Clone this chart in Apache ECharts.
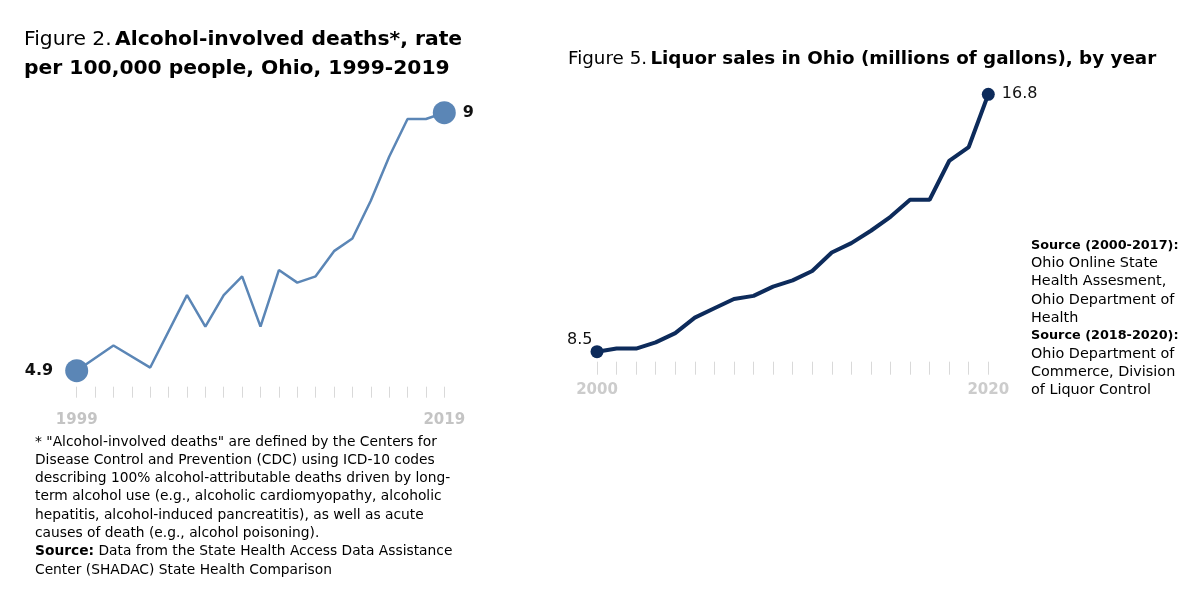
<!DOCTYPE html>
<html>
<head>
<meta charset="utf-8">
<script src="https://cdn.jsdelivr.net/npm/echarts@6/dist/echarts.min.js"></script>
<style>
  html, body { margin: 0; padding: 0; background: #fff; }
  #chart { width: 1200px; height: 598px; }
</style>
</head>
<body>
<div id="chart"></div>
<script>
// Figure 2: alcohol-involved deaths per 100,000 (null = no vertex drawn in the picture)
const deathYears = ['1999', '2000', '2001', '2002', '2003', '2004', '2005', '2006', '2007', '2008',
    '2009', '2010', '2011', '2012', '2013', '2014', '2015', '2016', '2017', '2018', '2019'];
const deathRate = [4.9, null, 5.3, null, 4.95, null, 6.1, 5.6, 6.1, 6.4,
    5.6, 6.5, 6.3, 6.4, 6.8, 7.0, 7.6, 8.3, 8.9, 8.9, 9.0];

// Figure 5: liquor sales, millions of gallons
const salesYears = ['2000', '2001', '2002', '2003', '2004', '2005', '2006', '2007', '2008', '2009',
    '2010', '2011', '2012', '2013', '2014', '2015', '2016', '2017', '2018', '2019', '2020'];
const liquorSales = [8.5, 8.6, 8.6, 8.8, 9.1, 9.6, 9.9, 10.2, 10.3, 10.6,
    10.8, 11.1, 11.7, 12.0, 12.4, 12.85, 13.4, 13.4, 14.65, 15.1, 16.8];

const FONT = 'DejaVu Sans';

// only the first and last points get a dot and a label
function endPoints(values, size, firstLabel, lastLabel) {
    let last = values.length - 1;
    return values.map((v, i) => {
        if (i === 0) return { value: v, symbol: 'circle', symbolSize: size, label: Object.assign({ show: true }, firstLabel) };
        if (i === last) return { value: v, symbol: 'circle', symbolSize: size, label: Object.assign({ show: true }, lastLabel) };
        return { value: v, symbol: 'none' };
    });
}

function firstLast(n) {
    return (v, i) => (i === 0 || i === n - 1) ? v : '';
}

let myChart = echarts.init(document.getElementById('chart'));
let option = {
    animation: false,
    textStyle: { fontFamily: FONT },
    grid: [
        { left: 76.7, width: 367.6, top: 112.7, height: 258 },
        { left: 597, width: 391.3, top: 94.3, height: 257.4 }
    ],
    xAxis: [{
        type: 'category',
        gridIndex: 0,
        data: deathYears,
        boundaryGap: false,
        offset: 16,
        axisLine: { show: false },
        axisTick: { show: true, interval: 0, length: 11, lineStyle: { color: '#d9d9d9', width: 1 } },
        axisLabel: {
            interval: 0,
            formatter: firstLast(deathYears.length),
            color: '#c4c4c4',
            fontWeight: 'bold',
            fontSize: 15,
            fontFamily: FONT,
            margin: 26
        },
        splitLine: { show: false }
    }, {
        type: 'category',
        gridIndex: 1,
        data: salesYears,
        boundaryGap: false,
        offset: 10,
        axisLine: { show: false },
        axisTick: { show: true, interval: 0, length: 13, lineStyle: { color: '#d9d9d9', width: 1 } },
        axisLabel: {
            interval: 0,
            formatter: firstLast(salesYears.length),
            color: '#cccccc',
            fontWeight: 'bold',
            fontSize: 15,
            fontFamily: FONT,
            margin: 21
        },
        splitLine: { show: false }
    }],
    yAxis: [
        { type: 'value', gridIndex: 0, min: 4.9, max: 9, show: false },
        { type: 'value', gridIndex: 1, min: 8.5, max: 16.8, show: false }
    ],
    series: [{
        type: 'line',
        xAxisIndex: 0,
        yAxisIndex: 0,
        connectNulls: true,
        showAllSymbol: true,
        lineStyle: { color: '#5b86b6', width: 2.5 },
        itemStyle: { color: '#5b86b6' },
        label: { color: '#111', fontWeight: 'bold', fontSize: 16, fontFamily: FONT },
        data: endPoints(deathRate, 23,
            { position: 'left', distance: 12 },
            { position: 'right', distance: 7 })
    }, {
        type: 'line',
        xAxisIndex: 1,
        yAxisIndex: 1,
        showAllSymbol: true,
        lineStyle: { color: '#0d2b5b', width: 4 },
        itemStyle: { color: '#0d2b5b' },
        label: { color: '#111', fontSize: 16, fontFamily: FONT },
        data: endPoints(liquorSales, 13,
            { position: 'left', distance: 0, offset: [2, -12] },
            { position: 'right', distance: 7 })
    }],
    graphic: [{
        type: 'text',
        left: 24,
        top: 30,
        style: {
            text: '{r|Figure 2.} {b|Alcohol-involved deaths*, rate}\n{b|per 100,000 people, Ohio, 1999-2019}',
            rich: {
                r: { fontFamily: FONT, fontSize: 20.3, color: '#222', lineHeight: 29 },
                b: { fontFamily: FONT, fontSize: 20.3, fontWeight: 'bold', color: '#111', lineHeight: 29 }
            }
        }
    }, {
        type: 'text',
        left: 568,
        top: 50,
        style: {
            text: '{r|Figure 5.} {b|Liquor sales in Ohio (millions of gallons), by year}',
            rich: {
                r: { fontFamily: FONT, fontSize: 18.3, color: '#222', lineHeight: 28 },
                b: { fontFamily: FONT, fontSize: 18.3, fontWeight: 'bold', color: '#111', lineHeight: 28 }
            }
        }
    }, {
        type: 'text',
        left: 35,
        top: 435,
        style: {
            text: [
                '{t|* "Alcohol-involved deaths" are defined by the Centers for}',
                '{t|Disease Control and Prevention (CDC) using ICD-10 codes}',
                '{t|describing 100% alcohol-attributable deaths driven by long-}',
                '{t|term alcohol use (e.g., alcoholic cardiomyopathy, alcoholic}',
                '{t|hepatitis, alcohol-induced pancreatitis), as well as acute}',
                '{t|causes of death (e.g., alcohol poisoning).}',
                '{s|Source:}{t| Data from the State Health Access Data Assistance}',
                '{t|Center (SHADAC) State Health Comparison}'
            ].join('\n'),
            rich: {
                t: { fontFamily: FONT, fontSize: 13.8, color: '#222', lineHeight: 18.3 },
                s: { fontFamily: FONT, fontSize: 13.8, fontWeight: 'bold', color: '#111', lineHeight: 18.3 }
            }
        }
    }, {
        type: 'text',
        left: 1031,
        top: 239,
        style: {
            text: [
                '{s|Source (2000-2017):}',
                '{t|Ohio Online State}',
                '{t|Health Assesment,}',
                '{t|Ohio Department of}',
                '{t|Health}',
                '{s|Source (2018-2020):}',
                '{t|Ohio Department of}',
                '{t|Commerce, Division}',
                '{t|of Liquor Control}'
            ].join('\n'),
            rich: {
                t: { fontFamily: FONT, fontSize: 14.4, color: '#222', lineHeight: 18.1 },
                s: { fontFamily: FONT, fontSize: 12.8, fontWeight: 'bold', color: '#111', lineHeight: 18.1 }
            }
        }
    }]
};

myChart.setOption(option);
</script>
</body>
</html>
